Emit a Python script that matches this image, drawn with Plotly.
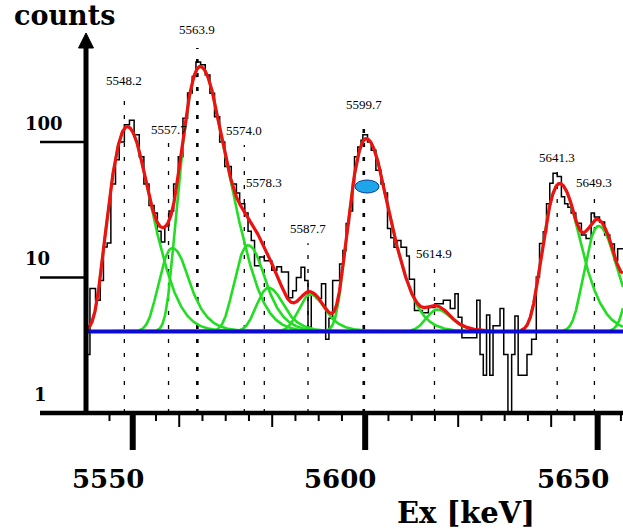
import numpy as np
import plotly.graph_objects as go

# ---------------- data ----------------
# histogram: step edges (keV) and counts per step
hist_edges = [5539.95, 5540.8, 5542.0, 5543.0, 5543.7, 5544.5, 5545.3, 5546.3, 5547.1, 5548.2,
              5549.3, 5550.3, 5551.4, 5552.4, 5553.5, 5554.6, 5555.3, 5556.1, 5556.9, 5557.8,
              5558.8, 5559.8, 5560.8, 5561.8, 5562.8, 5563.6, 5564.6, 5565.6, 5566.6, 5567.6,
              5568.7, 5569.8, 5571.2, 5572.3, 5573.0, 5574.1, 5574.8, 5575.5, 5576.2, 5577.3,
              5578.3, 5579.9, 5581.0, 5582.0, 5583.5, 5584.4, 5585.2, 5586.2, 5587.0, 5587.7,
              5588.4, 5589.5, 5590.6, 5591.5, 5592.2, 5593.0, 5593.8, 5594.5, 5595.2, 5595.9,
              5596.6, 5597.3, 5597.7, 5598.4, 5599.1, 5599.5, 5600.5, 5601.3, 5602.3, 5603.4,
              5604.1, 5604.8, 5605.5, 5606.2, 5606.9, 5607.7, 5608.9, 5609.5, 5610.6, 5612.3,
              5613.6, 5615.0, 5616.8, 5618.3, 5619.3, 5620.0, 5620.8, 5624.0, 5624.7, 5625.4,
              5626.1, 5626.8, 5627.5, 5629.0, 5629.8, 5630.7, 5631.5, 5632.2, 5632.9, 5634.8,
              5635.8, 5636.8, 5637.5, 5638.3, 5639.0, 5639.7, 5640.4, 5641.3, 5642.2, 5642.9,
              5643.6, 5644.3, 5645.3, 5646.5, 5647.5, 5648.6, 5649.3, 5650.4, 5651.5, 5652.6,
              5653.6, 5654.3, 5655.45]
hist_counts = [2.7, 8.3, 6.8, 9.5, 16.8, 18, 49, 74, 100, 134,
               145, 113, 78, 49, 34, 30, 22, 18.3, 24, 31,
               49, 78, 150, 230, 305, 390, 372, 313, 229, 154,
               100, 66, 49, 42, 35, 30, 22, 18.8, 12.2, 14.2,
               13.3, 11.3, 12, 11, 7.1, 8.0, 10, 11.9, 9.5, 4.3,
               7.5, 7.0, 9, 3.5, 5.0, 9.5, 9.5, 12.6, 15.8, 25,
               31, 50, 78, 92, 103, 113, 100, 87, 62, 49,
               42, 23, 19.7, 16.7, 18.8, 16.7, 14.4, 9.7, 5.7, 5.5,
               6.0, 6.4, 6.8, 5.9, 7.6, 5.1, 3.6, 6.8, 2.7, 1.9,
               5.3, 1.9, 4.4, 5.9, 2.7, 1.0, 2.7, 5.2, 1.9, 2.7,
               3.5, 10.1, 17.8, 21.8, 35, 49.6, 58.8, 55.6, 39.5, 35,
               33, 30, 25.2, 20.6, 19.4, 30, 28, 25.7, 20.6, 17.7,
               13.4, 16.3]

# fitted line components (centroid keV, amplitude counts, low/high widths keV)
fit_centroid = [5548.8, 5558.5, 5564.5, 5574.8, 5579.2, 5588.2, 5600.2, 5615.5, 5641.8, 5650.2, 5660.2]
fit_amplitude = [126, 12.5, 355, 13.3, 4.4, 3.5, 102, 1.8, 45.5, 20, 20]
fit_sigma_low = [2.35, 2.2, 2.25, 2.2, 2.2, 2.2, 2.2, 2.2, 2.3, 2.2, 2.2]
fit_sigma_high = [2.8, 2.8, 2.8, 2.8, 2.8, 2.8, 2.8, 2.8, 2.8, 2.8, 2.8]
fit_tail_start = 3.2
background = 4.0
fit_windows = [(5540.0, 5626.5), (5633.5, 5655.45)]

# peak labels
peak_energy = [5548.2, 5557.7, 5563.9, 5574.0, 5578.3, 5587.7, 5599.7, 5614.9, 5641.3, 5649.3]
peak_text = ["5548.2", "5557.7", "5563.9", "5574.0", "5578.3", "5587.7", "5599.7", "5614.9", "5641.3", "5649.3"]
peak_marker_top = [222, 100, 495, 95, 40.6, 17.9, 141, 11.7, 60, 38.6]
peak_label_y = [287, 123, 672, 121, 50.7, 23.2, 188, 15.1, 77, 50.7]
peak_bold = [False, False, True, False, False, False, True, False, False, False]

x_major = [5550, 5600, 5650]
x_mid = [5560, 5580, 5620, 5640]
x_minor = [5545, 5555, 5565, 5570, 5575, 5585, 5590, 5595, 5605, 5610, 5615, 5625, 5630, 5635, 5645, 5655]
y_ticks = [1, 10, 100]
y_tick_text = ["1", "10", "100"]

# ---------------- geometry ----------------
W, H = 623, 529
ML, MR, MT, MB = 86, 0, 33, 116
PW, PH = W - ML - MR, H - MT - MB
XR = [5539.95, 5655.45]
YR = [0.0, 2.805]


def px_x(p):
    return (p - ML) / PW


def px_y(p):
    return (H - MB - p) / PH


def log_to_paper(v):
    return (np.log10(v) - YR[0]) / (YR[1] - YR[0])


def component(x, mu, amp, sl, sh, t):
    d = x - mu
    out = np.where(d < 0, np.exp(-d**2 / (2 * sl**2)), np.exp(-d**2 / (2 * sh**2)))
    tail = np.exp(-t * (2 * d - t) / (2 * sh**2))
    out = np.where(d > t, tail, out)
    return amp * out


fig = go.Figure()

# dotted marker lines
for e, top, b in zip(peak_energy, peak_marker_top, peak_bold):
    fig.add_trace(go.Scatter(x=[e, e], y=[1, top], mode="lines",
                             line=dict(color="black", width=2.6 if b else 1.3, dash="4px,10px"),
                             hoverinfo="skip", showlegend=False))

# histogram
fig.add_trace(go.Scatter(x=hist_edges, y=hist_counts + [hist_counts[-1]], mode="lines",
                         line=dict(color="black", width=1.5, shape="hv"),
                         hoverinfo="skip", showlegend=False))

# green components
for mu, a, sl, sh in zip(fit_centroid, fit_amplitude, fit_sigma_low, fit_sigma_high):
    for lo, hi in fit_windows:
        xs = np.linspace(lo, hi, 900)
        ys = background + component(xs, mu, a, sl, sh, fit_tail_start)
        if (ys - background).max() < 0.05:
            continue
        fig.add_trace(go.Scatter(x=xs, y=ys, mode="lines",
                                 line=dict(color="#22dd22", width=2.6),
                                 hoverinfo="skip", showlegend=False))

# red total fit
for lo, hi in fit_windows:
    xs = np.linspace(lo, hi, 1500)
    tot = np.full_like(xs, background)
    for mu, a, sl, sh in zip(fit_centroid, fit_amplitude, fit_sigma_low, fit_sigma_high):
        tot = tot + component(xs, mu, a, sl, sh, fit_tail_start)
    fig.add_trace(go.Scatter(x=xs, y=tot, mode="lines",
                             line=dict(color="#ee1111", width=3.2),
                             hoverinfo="skip", showlegend=False))

# blue background line
fig.add_trace(go.Scatter(x=XR, y=[background, background], mode="lines",
                         line=dict(color="#0a0ad0", width=4),
                         hoverinfo="skip", showlegend=False))

shapes = []
annotations = []

# axes
shapes.append(dict(type="line", xref="paper", yref="paper", x0=px_x(40), x1=1.0, y0=0, y1=0,
                   line=dict(color="black", width=4.5)))
shapes.append(dict(type="line", xref="paper", yref="paper", x0=0, x1=0, y0=0, y1=px_y(46),
                   line=dict(color="black", width=5)))
shapes.append(dict(type="path", xref="paper", yref="paper",
                   path=f"M {px_x(78.5)},{px_y(48)} L {px_x(86)},{px_y(33)} L {px_x(93.5)},{px_y(48)} Z",
                   fillcolor="black", line=dict(color="black", width=1)))

# y tick lines and labels
for v, t in zip(y_ticks, y_tick_text):
    yp = log_to_paper(v)
    if v != 1:
        shapes.append(dict(type="line", xref="paper", yref="paper", x0=px_x(40), x1=px_x(85),
                           y0=yp, y1=yp, line=dict(color="black", width=2.5)))
    annotations.append(dict(xref="paper", yref="paper", x=px_x(23 if v != 1 else 32), y=yp,
                            xanchor="left", yanchor="middle", yshift=19, showarrow=False,
                            text=f"<b>{t}</b>",
                            font=dict(family="DejaVu Serif", size=18, color="black")))

# x ticks
y_axis_bottom = px_y(415)
for v in x_major:
    shapes.append(dict(type="line", xref="x", yref="paper", x0=v, x1=v, y0=y_axis_bottom, y1=px_y(450),
                       line=dict(color="black", width=6)))
    annotations.append(dict(xref="x", yref="paper", x=v, y=px_y(479), xanchor="center", yanchor="middle",
                            xshift=-25, showarrow=False, text=f"<b>{v}</b>",
                            font=dict(family="DejaVu Serif", size=26, color="black")))
for v in x_mid:
    shapes.append(dict(type="line", xref="x", yref="paper", x0=v, x1=v, y0=y_axis_bottom, y1=px_y(427),
                       line=dict(color="black", width=2)))
for v in x_minor:
    shapes.append(dict(type="line", xref="x", yref="paper", x0=v, x1=v, y0=y_axis_bottom, y1=px_y(421),
                       line=dict(color="black", width=2)))

# peak labels (paper y so that labels above the axis top stay visible)
for e, t, ly in zip(peak_energy, peak_text, peak_label_y):
    annotations.append(dict(xref="x", yref="paper", x=e, y=float(log_to_paper(ly)), xanchor="center",
                            yanchor="middle", showarrow=False, text=t,
                            font=dict(family="Liberation Serif", size=13, color="black")))

# blue ellipse marker
shapes.append(dict(type="circle", xref="paper", yref="paper", x0=px_x(355), x1=px_x(379),
                   y0=px_y(193), y1=px_y(180), fillcolor="#1ea5ea",
                   line=dict(color="#0b3d91", width=1)))

# axis titles
annotations.append(dict(xref="paper", yref="paper", x=px_x(12), y=px_y(16), xanchor="left",
                        yanchor="middle", showarrow=False, text="<b>counts</b>",
                        font=dict(family="DejaVu Serif", size=27, color="black")))
annotations.append(dict(xref="paper", yref="paper", x=px_x(466), y=px_y(513), xanchor="center",
                        yanchor="middle", showarrow=False, text="<b>Ex [keV]</b>",
                        font=dict(family="DejaVu Serif", size=29, color="black")))

fig.update_layout(
    width=W, height=H,
    margin=dict(l=ML, r=MR, t=MT, b=MB, pad=0),
    paper_bgcolor="white", plot_bgcolor="white",
    xaxis=dict(range=XR, visible=False, fixedrange=True),
    yaxis=dict(type="log", range=YR, visible=False, fixedrange=True),
    shapes=shapes, annotations=annotations,
    showlegend=False,
)

fig.write_html("out.html", config={"displayModeBar": False},
               post_script="document.body.style.margin='0';document.body.style.padding='0';")
